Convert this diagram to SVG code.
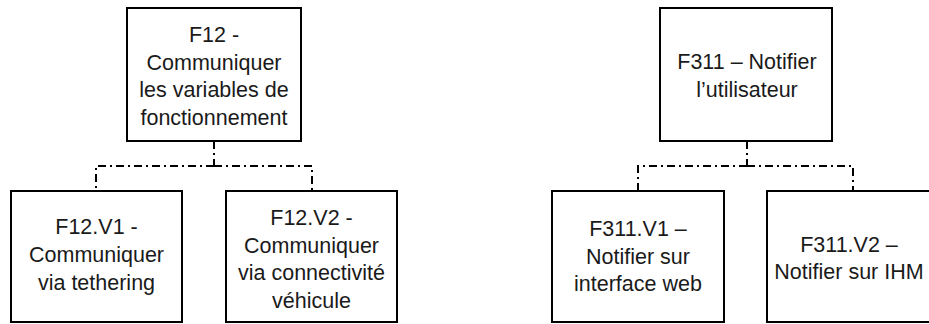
<svg xmlns="http://www.w3.org/2000/svg" width="929" height="324" viewBox="0 0 929 324">
<style>
.box{fill:#fff;stroke:#000;stroke-width:2}
.lbl{font-family:"Liberation Sans",Arial,sans-serif;font-size:21.5px;fill:#1a1a1a;text-anchor:middle}
.conn{fill:none;stroke:#000;stroke-width:2;stroke-dasharray:8,4,2,4}
</style>
<rect width="929" height="324" fill="#fff"/>
<g id="connectors">
<path class="conn" d="M214 141 V166"/>
<path class="conn" d="M214 166 H96 V191"/>
<path class="conn" d="M214 166 H312 V191"/>
<path class="conn" d="M747 141 V166"/>
<path class="conn" d="M747 166 H638 V191"/>
<path class="conn" d="M747 166 H853 V191"/>
</g>
<g id="F12">
<rect class="box" x="127" y="8" width="174" height="133"/>
<text class="lbl" x="214" y="42">F12 -</text>
<text class="lbl" x="214" y="69.5">Communiquer</text>
<text class="lbl" x="214" y="97">les variables de</text>
<text class="lbl" x="214" y="124.5">fonctionnement</text>
</g>
<g id="F12V1">
<rect class="box" x="11" y="191" width="171" height="131"/>
<text class="lbl" x="96.5" y="234">F12.V1 -</text>
<text class="lbl" x="96.5" y="262">Communiquer</text>
<text class="lbl" x="96.5" y="290">via tethering</text>
</g>
<g id="F12V2">
<rect class="box" x="226" y="191" width="171" height="131"/>
<text class="lbl" x="311.5" y="225">F12.V2 -</text>
<text class="lbl" x="311.5" y="252.5">Communiquer</text>
<text class="lbl" x="311.5" y="280">via connectivité</text>
<text class="lbl" x="311.5" y="307.5">véhicule</text>
</g>
<g id="F311">
<rect class="box" x="660" y="8" width="172" height="133"/>
<text class="lbl" x="747" y="69">F311 – Notifier</text>
<text class="lbl" x="747" y="97">l’utilisateur</text>
</g>
<g id="F311V1">
<rect class="box" x="552" y="191" width="172" height="131"/>
<text class="lbl" x="638" y="236">F311.V1 –</text>
<text class="lbl" x="638" y="264">Notifier sur</text>
<text class="lbl" x="638" y="291">interface web</text>
</g>
<g id="F311V2">
<rect class="box" x="767" y="191" width="172" height="131"/>
<text class="lbl" x="849" y="252">F311.V2 –</text>
<text class="lbl" x="849" y="279">Notifier sur IHM</text>
</g>
</svg>
